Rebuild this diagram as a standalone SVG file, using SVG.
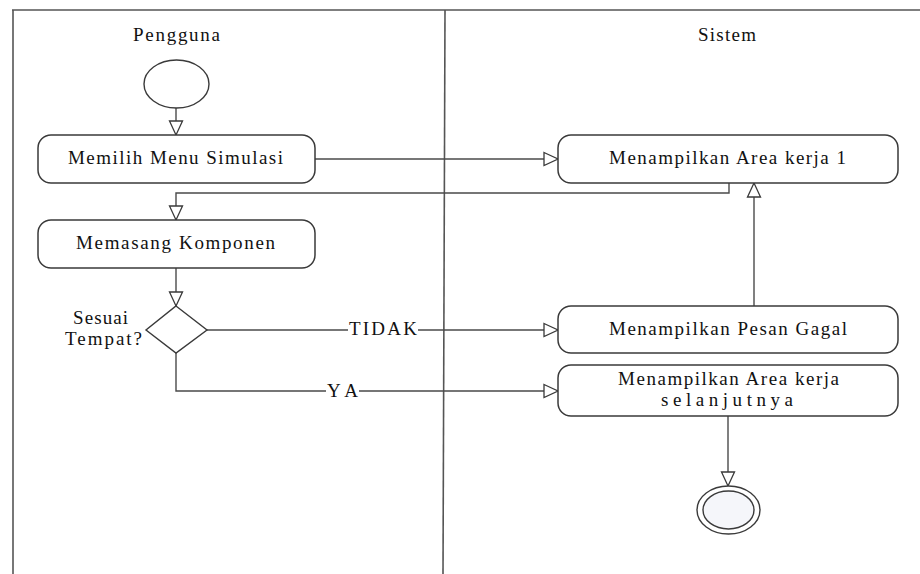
<svg xmlns="http://www.w3.org/2000/svg" width="920" height="574" viewBox="0 0 920 574" font-family="Liberation Serif, Times New Roman, serif" font-size="19">
  <style>
    .lane { stroke: #555; stroke-width: 1.6; fill: none; }
    .box { fill: #fff; stroke: #3a3a3a; stroke-width: 1.5; }
    .edge { stroke: #4a4a4a; stroke-width: 1.4; fill: none; }
    .t { fill: #111; }
    .lbl { fill: #fff; stroke: none; }
  </style>
  <defs>
    <marker id="arrow" markerUnits="userSpaceOnUse" markerWidth="18" markerHeight="16" viewBox="0 0 18 16" refX="15" refY="8" orient="auto">
      <path d="M1,1.5 L15,8 L1,14.5 Z" fill="#fff" stroke="#3a3a3a" stroke-width="1.3"/>
    </marker>
  </defs>
  <rect x="0" y="0" width="920" height="574" fill="#fff"/>

  <!-- swimlanes -->
  <g id="lanes">
    <line class="lane" x1="12" y1="10" x2="920" y2="10"/>
    <line class="lane" x1="13" y1="10" x2="13" y2="574"/>
    <line class="lane" x1="445" y1="10" x2="443" y2="574"/>
    <text class="t" x="133" y="41" textLength="87" lengthAdjust="spacing">Pengguna</text>
    <text class="t" x="698" y="41" textLength="58" lengthAdjust="spacing">Sistem</text>
  </g>

  <!-- connectors -->
  <g id="connectors">
    <line class="edge" x1="176" y1="108" x2="176" y2="135" marker-end="url(#arrow)"/>
    <line class="edge" x1="315" y1="159" x2="558" y2="159" marker-end="url(#arrow)"/>
    <polyline class="edge" points="729,183 729,193 176,193 176,220" marker-end="url(#arrow)"/>
    <line class="edge" x1="176" y1="268" x2="176" y2="306" marker-end="url(#arrow)"/>
    <line class="edge" x1="207" y1="330" x2="558" y2="330" marker-end="url(#arrow)"/>
    <polyline class="edge" points="176,353 176,391 558,391" marker-end="url(#arrow)"/>
    <line class="edge" x1="754" y1="306" x2="754" y2="183" marker-end="url(#arrow)"/>
    <line class="edge" x1="728" y1="416" x2="728" y2="486" marker-end="url(#arrow)"/>
    <rect class="lbl" x="348" y="320" width="70" height="18"/>
    <text class="t" x="349" y="335" textLength="68" lengthAdjust="spacing">TIDAK</text>
    <rect class="lbl" x="326" y="382" width="33" height="18"/>
    <text class="t" x="327" y="397" textLength="31" lengthAdjust="spacing">YA</text>
  </g>

  <g id="start">
    <ellipse cx="176.5" cy="84" rx="32.5" ry="24" fill="#fff" stroke="#3a3a3a" stroke-width="1.4"/>
  </g>

  <g id="memilih-menu">
    <rect class="box" x="38" y="135" width="277" height="48" rx="13"/>
    <text class="t" x="68" y="164" textLength="215" lengthAdjust="spacing">Memilih Menu Simulasi</text>
  </g>

  <g id="memasang-komponen">
    <rect class="box" x="38" y="220" width="277" height="48" rx="13"/>
    <text class="t" x="76" y="249" textLength="199" lengthAdjust="spacing">Memasang Komponen</text>
  </g>

  <g id="keputusan">
    <polygon points="176,306 207,330 176,353 146,330" fill="#fff" stroke="#3a3a3a" stroke-width="1.4"/>
    <text class="t" x="73" y="324" textLength="55" lengthAdjust="spacing">Sesuai</text>
    <text class="t" x="65" y="345" textLength="77" lengthAdjust="spacing">Tempat?</text>
  </g>

  <g id="area-kerja-1">
    <rect class="box" x="558" y="135" width="340" height="48" rx="13"/>
    <text class="t" x="609" y="164" textLength="237" lengthAdjust="spacing">Menampilkan Area kerja 1</text>
  </g>

  <g id="pesan-gagal">
    <rect class="box" x="558" y="306" width="340" height="47" rx="13"/>
    <text class="t" x="609" y="335" textLength="238" lengthAdjust="spacing">Menampilkan Pesan Gagal</text>
  </g>

  <g id="area-kerja-selanjutnya">
    <rect class="box" x="558" y="365" width="340" height="51" rx="13"/>
    <text class="t" x="618" y="385" textLength="221" lengthAdjust="spacing">Menampilkan Area kerja</text>
    <text class="t" x="661" y="406" textLength="132" lengthAdjust="spacing">selanjutnya</text>
  </g>

  <g id="end">
    <ellipse cx="728.5" cy="510" rx="31.5" ry="24" fill="#fff" stroke="#3a3a3a" stroke-width="1.4"/>
    <ellipse cx="728.5" cy="510" rx="25.5" ry="19" fill="#f5f6fa" stroke="#3a3a3a" stroke-width="1.4"/>
  </g>
</svg>
